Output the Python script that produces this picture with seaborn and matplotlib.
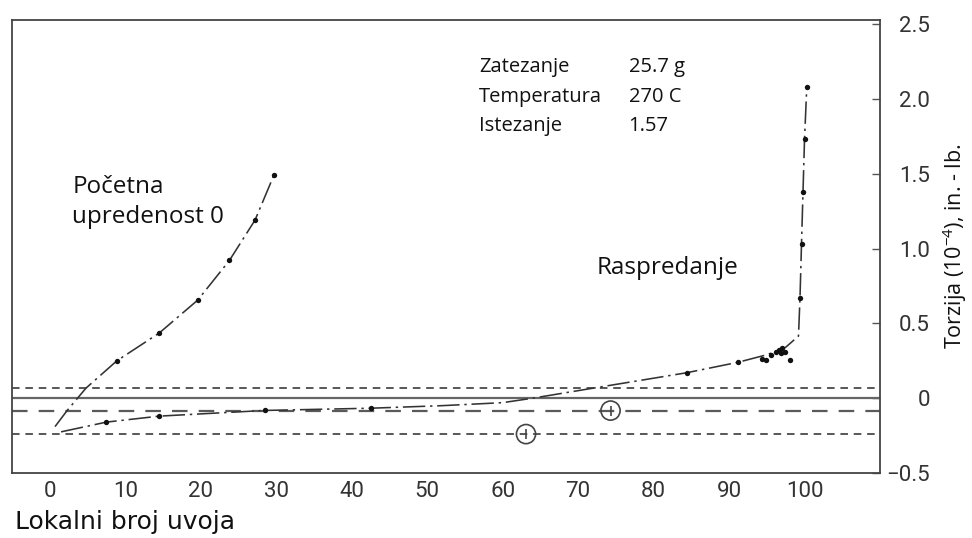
import numpy as np
import pandas as pd
import seaborn as sns
import matplotlib.pyplot as plt

# Pocetna upredenost 0 - measured points and drawn curve
poc_x = [8.9, 14.5, 19.6, 23.8, 27.2, 29.7]
poc_y = [0.25, 0.435, 0.655, 0.92, 1.19, 1.49]
poc_curve_x = [0.7, 2.3, 4.8, 8.9, 14.5, 19.6, 23.8, 27.2, 29.7]
poc_curve_y = [-0.19, -0.083, 0.067, 0.25, 0.435, 0.655, 0.92, 1.19, 1.49]

# Raspredanje - measured points and drawn curve
ras_x = [7.5, 14.5, 28.5, 42.6, 84.4, 91.2,
         94.4, 94.9, 95.6, 96.2, 96.6, 97.0, 96.9, 97.4, 98.1,
         99.4, 99.6, 99.8, 100.0, 100.3]
ras_y = [-0.16, -0.12, -0.082, -0.067, 0.17, 0.24,
         0.265, 0.255, 0.29, 0.31, 0.325, 0.335, 0.30, 0.31, 0.255,
         0.67, 1.03, 1.38, 1.73, 2.08]
ras_curve_x = [1.5, 7.5, 14.5, 28.5, 42.6, 52, 60, 64, 72, 84.4, 91.2, 95, 97.5,
               99.2, 99.4, 99.6, 99.8, 100.0, 100.3]
ras_curve_y = [-0.225, -0.16, -0.12, -0.082, -0.067, -0.05, -0.03, 0.0, 0.067, 0.17,
               0.24, 0.29, 0.34, 0.415, 0.67, 1.03, 1.38, 1.73, 2.08]

# circled points
circ_x = [63.1, 74.3]
circ_y = [-0.24, -0.083]

# reference horizontal levels
lvl_zero = 0.0
lvl_dotted = [0.067, -0.24]
lvl_dashed = -0.083

xticks = [0, 10, 20, 30, 40, 50, 60, 70, 80, 90, 100]
yticks = [-0.5, 0, 0.5, 1.0, 1.5, 2.0, 2.5]
ytick_labels = ["\u22120.5", "0", "0.5", "1.0", "1.5", "2.0", "2.5"]

info_names = ["Zatezanje", "Temperatura", "Istezanje"]
info_vals = ["25.7 g", "270 C", "1.57"]

sns.set_theme(style="white")
plt.rcParams["font.family"] = ["Open Sans", "DejaVu Sans"]
plt.rcParams["mathtext.default"] = "regular"

fig = plt.figure(figsize=(9.72, 5.38), dpi=100)
ax = fig.add_axes([12 / 972, 1 - 473 / 538, 868 / 972, 453 / 538])

lc = "#4a4a4a"
ax.axhline(lvl_zero, color="#666666", lw=1.6, zorder=1)
for v in lvl_dotted:
    ax.axhline(v, color=lc, lw=1.3, dashes=(4.2, 3.2), zorder=1)
ax.axhline(lvl_dashed, color="#5a5a5a", lw=1.6, dashes=(7, 5), zorder=1)

curve_dash = (14, 3, 1.5, 3)
poc_df = pd.DataFrame({"x": poc_curve_x, "y": poc_curve_y})
ras_df = pd.DataFrame({"x": ras_curve_x, "y": ras_curve_y})
sns.lineplot(data=poc_df, x="x", y="y", sort=False, ax=ax, color="#333333",
             lw=1.15, zorder=2)
ax.lines[-1].set_dashes(curve_dash)
sns.lineplot(data=ras_df, x="x", y="y", sort=False, ax=ax, color="#333333",
             lw=1.15, zorder=2)
ax.lines[-1].set_dashes(curve_dash)

sns.scatterplot(x=poc_x, y=poc_y, ax=ax, color="#111111", s=15, linewidth=0, zorder=3)
sns.scatterplot(x=ras_x, y=ras_y, ax=ax, color="#111111", s=15, linewidth=0, zorder=3)

sns.scatterplot(x=circ_x, y=circ_y, ax=ax, marker="o", s=190, facecolor="none",
                edgecolor="#444444", linewidth=1.2, zorder=3)
sns.scatterplot(x=circ_x, y=circ_y, ax=ax, marker="|", s=60, color="#444444",
                linewidth=1.2, zorder=3)

ax.set_xlim(-5, 110)
ax.set_ylim(-0.5, 2.527)

ax.set_xticks(xticks)
ax.set_xticklabels([str(t) for t in xticks])
ax.yaxis.tick_right()
ax.set_yticks(yticks)
ax.set_yticklabels(ytick_labels)

tick_font = ["Roboto", "DejaVu Sans"]
ax.tick_params(axis="x", direction="in", length=6, width=1, color="#555555",
               pad=6, labelsize=16, labelcolor="#333333")
ax.tick_params(axis="y", direction="in", length=6, width=1, color="#555555",
               pad=36, labelsize=16, labelcolor="#333333", left=False, right=True)
for lab in ax.get_xticklabels() + ax.get_yticklabels():
    lab.set_family(tick_font)
for lab in ax.get_yticklabels():
    lab.set_ha("right")

for sp in ax.spines.values():
    sp.set_color("#444444")
    sp.set_linewidth(1.3)

ax.set_xlabel("")
ax.set_ylabel("")
fig.text(15 / 972, 1 - 522 / 538, "Lokalni broj uvoja", family=["DejaVu Sans"],
         fontsize=18, color="#111111", ha="left", va="center")
fig.text(955 / 972, 1 - 246 / 538, r"Torzija (10$^{-4}$), in. - lb.", fontsize=15.5,
         color="#111111", rotation=90, ha="center", va="center")

ax.text(3.0, 1.41, "Početna", fontsize=17.5, color="#111111", va="center")
ax.text(3.0, 1.21, "upredenost 0", fontsize=17.5, color="#111111", va="center")
ax.text(72.4, 0.867, "Raspredanje", fontsize=17.5, color="#111111", va="center")

for i, (n, v) in enumerate(zip(info_names, info_vals)):
    yy = 2.21 - i * 0.195
    ax.text(56.9, yy, n, fontsize=14.5, color="#111111", va="center")
    ax.text(76.7, yy, v, fontsize=14.5, color="#111111", va="center")

fig.savefig("out.png", dpi=100)
